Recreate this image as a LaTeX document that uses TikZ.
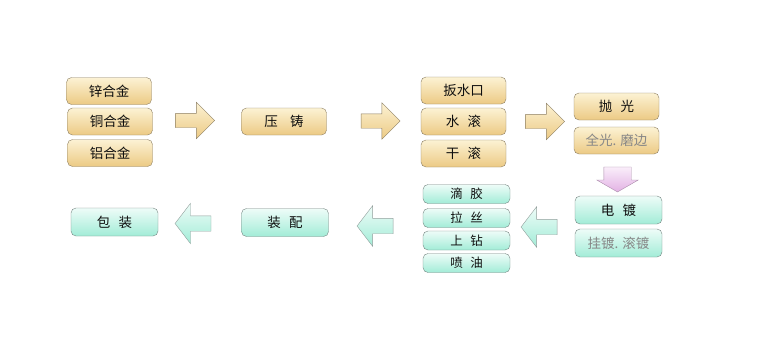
\documentclass[tikz,border=0pt]{standalone}
\usepackage{fontspec}
\setmainfont{Noto Sans CJK SC}
\usetikzlibrary{shapes.arrows}

\definecolor{goldtop}{RGB}{252,242,212}
\definecolor{goldbot}{RGB}{236,202,132}
\definecolor{goldline}{RGB}{140,126,98}
\definecolor{cyantop}{RGB}{238,252,248}
\definecolor{cyanbot}{RGB}{162,236,215}
\definecolor{cyanline}{RGB}{118,134,130}
\definecolor{pinktop}{RGB}{250,238,250}
\definecolor{pinkbot}{RGB}{226,178,228}
\definecolor{pinkline}{RGB}{170,140,170}
\definecolor{txt}{RGB}{15,15,15}
\definecolor{note}{RGB}{135,135,135}
\newcommand{\jg}{\hspace{0.6em}}

\begin{document}
\begin{tikzpicture}[x=1pt, y=-1pt,
    goldbox/.style={draw=goldline, rounded corners=5pt, top color=goldtop, bottom color=goldbot, minimum width=85pt, minimum height=27pt, inner sep=0pt, text=txt, font=\fontsize{13.5}{13.5}\selectfont},
    cyanbox/.style={draw=cyanline, rounded corners=5pt, top color=cyantop, bottom color=cyanbot, minimum width=87pt, minimum height=28pt, inner sep=0pt, text=txt, font=\fontsize{13.5}{13.5}\selectfont},
    smallbox/.style={cyanbox, minimum height=19pt, font=\fontsize{12.5}{12.5}\selectfont},
    notebox/.style={text=note},
    rarrow/.style={single arrow, draw=goldline, top color=goldtop, bottom color=goldbot, inner xsep=0pt, inner ysep=7pt, single arrow head extend=11pt, single arrow tip angle=90, minimum height=39pt},
    larrow/.style={single arrow, shape border rotate=180, draw=cyanline!80, top color=cyantop, bottom color=cyanbot, inner xsep=0pt, inner ysep=7.5pt, single arrow head extend=12.5pt, single arrow tip angle=105, minimum height=36pt},
    darrow/.style={single arrow, shape border rotate=270, draw=pinkline, top color=pinktop, bottom color=pinkbot, inner xsep=13.5pt, inner ysep=0pt, single arrow head extend=7pt, single arrow tip angle=120, minimum height=25pt}
]
\useasboundingbox (0,0) rectangle (763,356);

% top row
\node[goldbox] (zn) at (109,91) {锌合金};
\node[goldbox] (cu) at (110,121.5) {铜合金};
\node[goldbox] (al) at (110,153) {铝合金};
\node[rarrow] (ar1) at (191.5,120.5) {};
\node[goldbox] (yazhu) at (284,121.5) {压\hspace{0.9em}铸};
\node[rarrow] (ar2) at (377,121) {};
\node[goldbox] (bsk) at (463.5,90.5) {扳水口};
\node[goldbox] (sgun) at (463.5,121.5) {水\jg 滚};
\node[goldbox] (ggun) at (463.5,153.5) {干\jg 滚};
\node[rarrow] (ar3) at (541.5,121.5) {};
\node[goldbox] (pg) at (616.5,106.5) {抛\jg 光};
\node[goldbox, notebox] (pgnote) at (616.5,140.5) {全光. 磨边};

% turn down
\node[darrow] (ar4) at (617.5,175.5) {};

% bottom row
\node[cyanbox] (dd) at (618.5,210) {电\jg 镀};
\node[cyanbox, notebox] (ddnote) at (618.5,243) {挂镀. 滚镀};
\node[larrow] (ar5) at (542,227) {};
\node[smallbox] (dj) at (466.5,194) {滴\jg 胶};
\node[smallbox] (ls) at (466.5,218) {拉\jg 丝};
\node[smallbox] (sz) at (466.5,240.5) {上\jg 钻};
\node[smallbox] (py) at (466.5,263) {喷\jg 油};
\node[larrow] (ar6) at (378,226) {};
\node[cyanbox] (zp) at (285,222.5) {装\jg 配};
\node[larrow] (ar7) at (196,223.5) {};
\node[cyanbox] (bz) at (114.5,222) {包\jg 装};
\end{tikzpicture}
\end{document}
